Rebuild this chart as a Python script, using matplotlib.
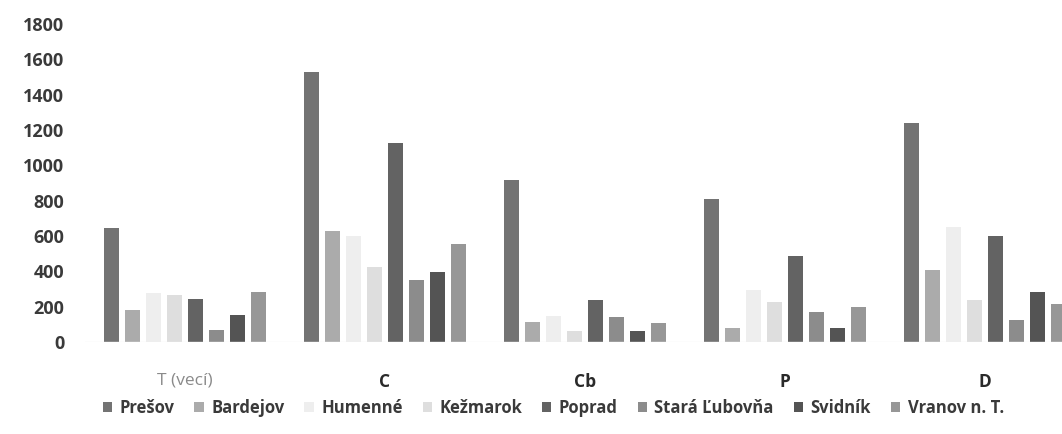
import numpy as np
import matplotlib.pyplot as plt

categories = ['T (vecí)', 'C', 'Cb', 'P', 'D']
districts = ['Prešov', 'Bardejov', 'Humenné', 'Kežmarok', 'Poprad',
             'Stará Ľubovňa', 'Svidník', 'Vranov n. T.']

# values per district, one per category (T, C, Cb, P, D)
presov = [645, 1530, 918, 810, 1241]
bardejov = [181, 629, 113, 79, 408]
humenne = [278, 600, 150, 295, 650]
kezmarok = [266, 425, 60, 227, 238]
poprad = [244, 1127, 238, 487, 601]
stara_lubovna = [68, 351, 142, 170, 125]
svidnik = [153, 397, 62, 79, 283]
vranov = [283, 555, 108, 198, 215]

series = [presov, bardejov, humenne, kezmarok, poprad, stara_lubovna, svidnik, vranov]
colors = ['#737373', '#ababab', '#eeeeee', '#dedede', '#636363',
          '#8c8c8c', '#545454', '#979797']

plt.rcParams['font.family'] = ['Open Sans', 'DejaVu Sans']

fig = plt.figure(figsize=(10.62, 4.34), dpi=100)
ax = fig.add_axes([85/1062, 1 - 342/434, 1 - 85/1062, (342 - 24)/434])

x = np.arange(len(categories))
step = 0.105
width = 0.075
for i, (vals, c, name) in enumerate(zip(series, colors, districts)):
    ax.bar(x + (i - 3.5)*step, vals, width, color=c, label=name)

ax.set_ylim(0, 1800)
ax.set_xlim(-0.5, (1062 - 185)/200)
ax.set_yticks(range(0, 1801, 200))
ax.set_xticks(x)
ax.set_xticklabels(categories)
for s in ax.spines.values():
    s.set_visible(False)
ax.axhline(0, color='#f0f0f0', lw=1)
ax.tick_params(length=0)
ax.tick_params(axis='y', labelsize=13, labelcolor='#3a3a3a', pad=15)
ax.tick_params(axis='x', labelsize=12.5, labelcolor='#2a2a2a', pad=22)
for t in ax.get_yticklabels():
    t.set_fontweight('bold')
for i, t in enumerate(ax.get_xticklabels()):
    t.set_fontweight('bold')
    if i == 0:
        t.set_color('#8a8a8a')
        t.set_fontweight('normal')

fig.legend(loc='center', bbox_to_anchor=(0.521, 1 - 408/434), ncol=8, frameon=False,
           handlelength=0.55, handleheight=0.55, handletextpad=0.45, columnspacing=1.2,
           prop={'size': 12, 'weight': 'bold'}, labelcolor='#3a3a3a')

fig.savefig('out.png', dpi=100)
